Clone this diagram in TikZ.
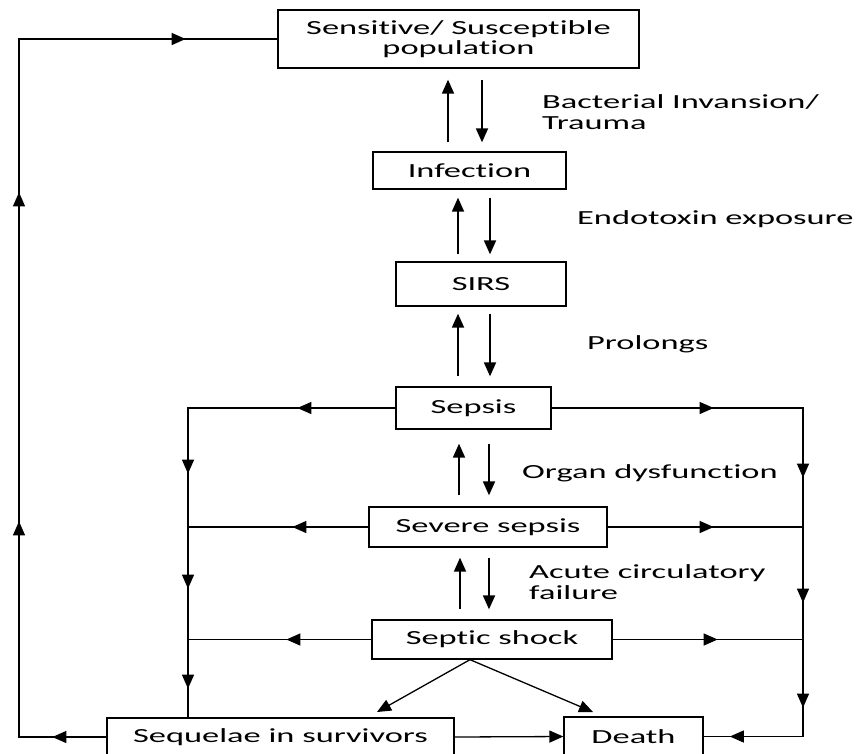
\documentclass[tikz,border=0pt]{standalone}
\usepackage{fontspec}
\setmainfont{Carlito}[FakeStretch=1.72, Ligatures={NoCommon}]
\usetikzlibrary{arrows.meta,decorations.markings}

\tikzset{
  bigtri/.tip={Triangle[length=14pt,width=12pt]},
  txt/.style={font=\fontsize{20}{20.5}\selectfont},
  box/.style={draw, line width=1.3pt, inner sep=0pt, align=center, txt},
  lbl/.style={anchor=west, inner sep=0pt, align=left, txt},
  flow/.style={line width=1.3pt},
  pair/.style={line width=1.8pt, -bigtri},
  marks/.style={postaction={decorate}, decoration={markings, #1}},
}

\begin{document}
\begin{tikzpicture}[x=1pt, y=-1pt]
\path[use as bounding box, fill=white] (0,0) rectangle (858,753);

% boxes
\node[box, minimum width=361pt, minimum height=58pt] (top) at (458.5,39) {Sensitive/ Susceptible\\population};
\node[box, minimum width=193pt, minimum height=37pt] (inf) at (469.5,170.5) {Infection};
\node[box, minimum width=170pt, minimum height=44pt] (sirs) at (481,284) {SIRS};
\node[box, minimum width=155pt, minimum height=42pt] (sepsis) at (473.5,408) {Sepsis};
\node[box, minimum width=238pt, minimum height=40pt] (severe) at (488,527) {Severe sepsis};
\node[box, minimum width=240pt, minimum height=39pt] (shock) at (492,639.5) {Septic shock};
\node[box, minimum width=347pt, minimum height=38pt] (seq) at (280.5,737) {Sequelae in survivors};
\node[box, minimum width=139pt, minimum height=39pt] (death) at (633.5,736.5) {Death};

% labels
\node[lbl] (l1) at (542,112) {Bacterial Invansion/\\Trauma};
\node[lbl] (l2) at (577,219) {Endotoxin exposure};
\node[lbl] (l3) at (587,344) {Prolongs};
\node[lbl] (l4) at (522,473) {Organ dysfunction};
\node[lbl] (l5) at (529,582) {Acute circulatory\\failure};

% helper x positions
\coordinate (p1u) at (448,0); \coordinate (p1d) at (482,0);
\coordinate (p2u) at (458,0); \coordinate (p2d) at (490,0);
\coordinate (p3u) at (458,0); \coordinate (p3d) at (490,0);
\coordinate (p4u) at (459,0); \coordinate (p4d) at (489,0);
\coordinate (p5u) at (460,0); \coordinate (p5d) at (489,0);
\coordinate (cL) at (188,0);
\coordinate (cR) at (803,0);
\coordinate (cO) at (19,0);

% vertical arrow pairs
\draw[pair, shorten <=9pt, shorten >=11pt] (inf.north -| p1u) -- (top.south -| p1u);
\draw[pair, shorten <=11pt, shorten >=9pt] (top.south -| p1d) -- (inf.north -| p1d);
\draw[pair, shorten <=7pt, shorten >=8pt] (sirs.north -| p2u) -- (inf.south -| p2u);
\draw[pair, shorten <=8pt, shorten >=7pt] (inf.south -| p2d) -- (sirs.north -| p2d);
\draw[pair, shorten <=10pt, shorten >=7pt] (sepsis.north -| p3u) -- (sirs.south -| p3u);
\draw[pair, shorten <=7pt, shorten >=10pt] (sirs.south -| p3d) -- (sepsis.north -| p3d);
\draw[pair, shorten <=11pt, shorten >=14pt] (severe.north -| p4u) -- (sepsis.south -| p4u);
\draw[pair, shorten <=14pt, shorten >=11pt] (sepsis.south -| p4d) -- (severe.north -| p4d);
\draw[pair, shorten <=10pt, shorten >=10pt] (shock.north -| p5u) -- (severe.south -| p5u);
\draw[pair, shorten <=10pt, shorten >=10pt] (severe.south -| p5d) -- (shock.north -| p5d);

% left ladder
\draw[flow, marks={mark=at position 98pt with {\arrow{bigtri}},
                   mark=at position 273pt with {\arrow{bigtri}},
                   mark=at position 388pt with {\arrow{bigtri}},
                   mark=at position 488pt with {\arrow{bigtri}}}]
  (sepsis.west) -| (seq.north -| cL);
\draw[flow, marks={mark=at position 76pt with {\arrow{bigtri}}}]
  (severe.west) -- (severe.west -| cL);
\draw[flow, marks={mark=at position 85pt with {\arrow{bigtri}}}]
  (shock.west) -- (shock.west -| cL);

% right ladder
\draw[flow, marks={mark=at position 162pt with {\arrow{bigtri}},
                   mark=at position 321pt with {\arrow{bigtri}},
                   mark=at position 446pt with {\arrow{bigtri}},
                   mark=at position 551pt with {\arrow{bigtri}},
                   mark=at position 653pt with {\arrow{bigtri}}}]
  (sepsis.east) -| (death.east -| cR) -- (death.east);
\draw[flow, marks={mark=at position 106pt with {\arrow{bigtri}}}]
  (severe.east) -- (severe.east -| cR);
\draw[flow, marks={mark=at position 105pt with {\arrow{bigtri}}}]
  (shock.east) -- (shock.east -| cR);

% outer loop
\draw[flow, marks={mark=at position 54pt with {\arrow{bigtri}},
                   mark=at position 303pt with {\arrow{bigtri}},
                   mark=at position 632pt with {\arrow{bigtri}},
                   mark=at position 952pt with {\arrow{bigtri}}}]
  (seq.west) -| (top.west -| cO) -- (top.west);

% bottom
\draw[flow, -bigtri] (seq.east) -- (death.west);
\coordinate (sb) at ([xshift=-22pt]shock.south);
\coordinate (dl) at (377,712);
\coordinate (dr) at (593,712);
\draw[flow, -bigtri] (sb) -- (dl);
\draw[flow, -bigtri] (sb) -- (dr);
\end{tikzpicture}
\end{document}
